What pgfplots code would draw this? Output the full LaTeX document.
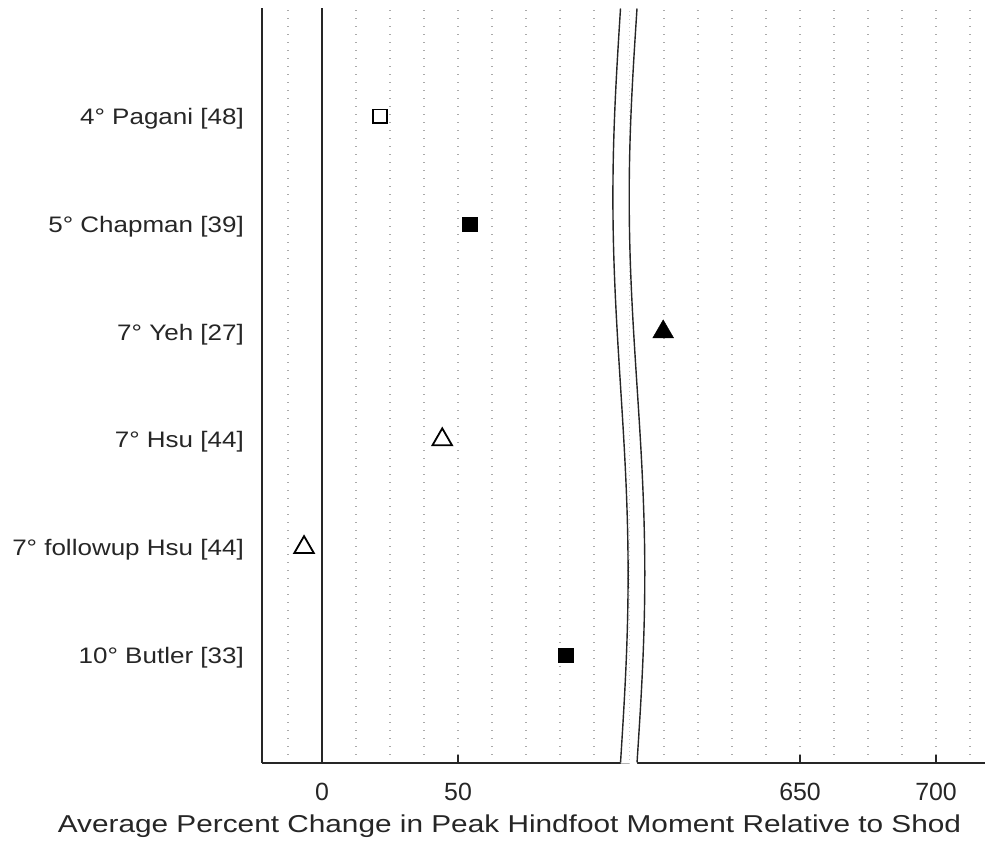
\documentclass[border=0pt]{standalone}
\usepackage{fontspec}
\setmainfont{Liberation Sans}
\newfontfamily\labelfont{Liberation Sans}[FakeStretch=1.16]
\newfontfamily\titlefont{Liberation Sans}[FakeStretch=1.22]
\usepackage{pgfplots}
\pgfplotsset{compat=1.18}
\definecolor{axgray}{HTML}{262626}
\definecolor{gridgray}{HTML}{AAAAAA}

\pgfplotsset{
  brokenpart/.style={
    scale only axis,
    height=754.5bp,
    ymin=0, ymax=7,
    axis x line=bottom,
    tick align=inside,
    major tick length=8bp,
    minor tick length=0pt,
    xtick style={axgray, line width=1.3bp},
    xminorgrids,
    minor grid style={gridgray, line width=1.2bp, dash pattern=on 1.2bp off 6.8bp},
    ticklabel style={font=\fontsize{25}{30}\selectfont, text=axgray},
    xticklabel style={anchor=north, inner sep=0pt, yshift=-19.5bp},
    /pgf/number format/assume math mode=true,
    clip=false,
  },
  plainlines/.style={
    axis line style={draw=axgray, line width=1.5bp},
    every outer x axis line/.append style={-},
    every outer y axis line/.append style={-},
    every inner x axis line/.append style={-},
    every inner y axis line/.append style={-},
  },
}

\begin{document}
\begin{tikzpicture}[x=1bp,y=1bp]
\path[use as bounding box] (0,0) rectangle (985,843);

% lower range of the broken x axis
\begin{axis}[brokenpart,
  at={(262bp,80bp)}, anchor=south west,
  width=367.4bp,
  xmin=-22.06, xmax=113,
  axis y line=left,
  plainlines,
  xtick={0,50},
  minor xtick={-12.5,0,12.5,25,37.5,50,62.5,75,87.5,100,112.5},
  ytick={1,2,3,4,5,6},
  yticklabels={10° Butler [33],7° followup Hsu [44],7° Hsu [44],7° Yeh [27],5° Chapman [39],4° Pagani [48]},
  ytick style={draw=none},
  yticklabel style={font=\labelfont\fontsize{22.5}{27}\selectfont, text=axgray, anchor=east, inner sep=0pt, xshift=-14bp, yshift=-2.5bp},
]
\draw[axgray, line width=1.4bp] (axis cs:0,0) -- (axis cs:0,7);
% 4 deg Pagani
\addplot[only marks, mark=square, mark size=6.8bp,
  mark options={line width=1.8bp, draw=black, fill=white}] coordinates {(21.3,6)};
% 5 deg Chapman and 10 deg Butler
\addplot[only marks, mark=square*, mark size=7.3bp, black] coordinates {(54.4,5) (89.6,1)};
% 7 deg Hsu and 7 deg followup Hsu
\addplot[only marks, mark=triangle, mark size=11.3bp,
  mark options={line width=1.8bp, draw=black, fill=white}] coordinates {(44.2,3) (-6.6,2)};
\end{axis}

% upper range of the broken x axis
\begin{axis}[brokenpart,
  at={(636.8bp,80bp)}, anchor=south west,
  width=348.2bp,
  xmin=590, xmax=718,
  axis y line=none,
  plainlines,
  ytick=\empty,
  xtick={650,700},
  minor xtick={600,612.5,625,637.5,650,662.5,675,687.5,700,712.5},
]
% 7 deg Yeh
\addplot[only marks, mark=triangle*, mark size=12bp, black] coordinates {(599.7,4)};
\end{axis}

% axis break
\fill[white] plot[domain=0:1, samples=80] ({620.5-7.6*sin(360*\x)}, {835-756*\x})
  -- plot[domain=1:0, samples=80] ({637-7.8*sin(360*\x)}, {835-756*\x}) -- cycle;
\draw[gridgray!60, line width=0.8bp, dash pattern=on 1bp off 3bp] (629,79) -- (629,834.5);
\draw[axgray, line width=1.4bp] plot[domain=0:1, samples=80] ({620.5-7.6*sin(360*\x)}, {834.5-754.5*\x});
\draw[axgray, line width=1.4bp] plot[domain=0:1, samples=80] ({637-7.8*sin(360*\x)}, {834.5-754.5*\x});

\node[font=\titlefont\fontsize{24.5}{29}\selectfont, text=axgray, anchor=base] at (509.5,10)
  {Average Percent Change in Peak Hindfoot Moment Relative to Shod};
\end{tikzpicture}
\end{document}
